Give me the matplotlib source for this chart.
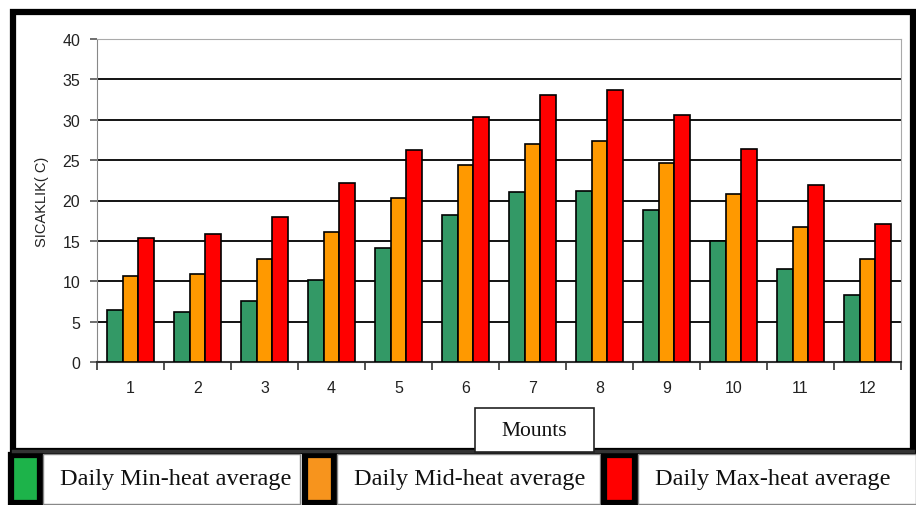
import numpy as np
import matplotlib
matplotlib.use("Agg")
import matplotlib.pyplot as plt
from matplotlib.patches import Rectangle

months = [str(m) for m in range(1, 13)]
min_avg = [6.4, 6.2, 7.6, 10.2, 14.1, 18.2, 21.0, 21.2, 18.8, 15.0, 11.5, 8.3]
mid_avg = [10.7, 10.9, 12.8, 16.1, 20.3, 24.4, 27.0, 27.4, 24.7, 20.8, 16.7, 12.8]
max_avg = [15.3, 15.8, 18.0, 22.2, 26.3, 30.4, 33.1, 33.7, 30.6, 26.4, 21.9, 17.1]
series_labels = ["Daily Min-heat average", "Daily Mid-heat average", "Daily Max-heat average"]
bar_colors = ["#339966", "#ff9900", "#ff0000"]
legend_colors = ["#1db34a", "#f7941d", "#ff0000"]

fig = plt.figure(figsize=(9.16, 5.06), dpi=100)
fig.patch.set_facecolor("white")

# overlay in pixel coordinates for frame, legend strip and "Mounts" box
ov = fig.add_axes([0, 0, 1, 1], zorder=0)
ov.set_xlim(0, 916)
ov.set_ylim(506, 0)
ov.axis("off")

# outer black frame
ov.add_patch(Rectangle((13, 13), 900, 439, fill=False, ec="black", lw=4.5))
ov.plot([13, 913], [452, 452], color="#333333", lw=2.5)

# legend strip
boxes = [(8, 43, 300), (302, 337, 600), (601, 638, 916)]
for (x0, x1, x2), lab, col in zip(boxes, series_labels, legend_colors):
    ov.add_patch(Rectangle((x0 + 3, 456), x1 - x0 - 6, 48, fc=col, ec="black", lw=4.5))
    ov.add_patch(Rectangle((x1, 455), x2 - x1, 50, fc="white", ec="#888888", lw=1))
    ov.text(x1 + 17, 480, lab, family="Liberation Serif", fontsize=17.5,
            va="center", ha="left", color="#111111")

ov.add_patch(Rectangle((475, 409), 119, 44, fc="white", ec="#222222", lw=1.2, zorder=5))
ov.text(534, 432, "Mounts", family="Liberation Serif", fontsize=15.5,
        ha="center", va="center", color="#111111", zorder=6)

# main chart
ax = fig.add_axes([97 / 916, 1 - 363 / 506, 804 / 916, 323 / 506], zorder=2)
x = np.arange(len(months))
w = 0.23
for off, vals, col in zip([-w, 0, w], [min_avg, mid_avg, max_avg], bar_colors):
    ax.bar(x + off, vals, width=w, color=col, edgecolor="black", linewidth=1.2, zorder=3)

ax.set_xlim(-0.5, 11.5)
ax.set_ylim(0, 40)
yt = np.arange(0, 41, 5)
ax.set_yticks(yt)
for y in yt[1:-1]:
    ax.axhline(y, color="black", lw=1.3, zorder=1)

ax.set_xticks(x)
ax.set_xticklabels(months)
ax.set_xticks(np.arange(-0.5, 12, 1), minor=True)
ax.tick_params(axis="x", which="major", length=0, pad=13)
ax.tick_params(axis="x", which="minor", length=6, width=1.2, color="#333333", direction="out")
ax.tick_params(axis="y", length=5, width=1.2, color="#555555", pad=7)
ax.tick_params(labelsize=11.5, labelcolor="#222222")
for lbl in ax.get_xticklabels() + ax.get_yticklabels():
    lbl.set_family("Liberation Sans")

ax.spines["top"].set_color("#aaaaaa")
ax.spines["right"].set_color("#aaaaaa")
ax.spines["left"].set_color("#888888")
ax.spines["bottom"].set_color("#333333")
ax.spines["bottom"].set_linewidth(1.5)

ax.set_ylabel("SICAKLIK( C)", family="Liberation Sans", fontsize=10.5, color="#222222", labelpad=10)

fig.savefig("out.png", dpi=100)
